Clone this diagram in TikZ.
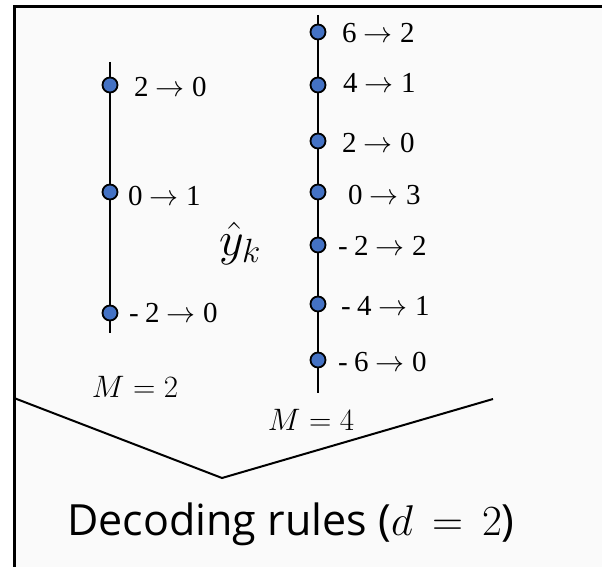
\RequirePackage{fix-cm}
\documentclass[tikz,border=0pt]{standalone}
\usepackage{fontspec}
\setmainfont{Liberation Serif}
\newfontfamily\capfont{Open Sans}
\usetikzlibrary{positioning}
\definecolor{dotblue}{RGB}{68,114,196}
\definecolor{panelgray}{RGB}{250,250,250}
\newcommand{\negsign}{-\hspace{.22em}}
\newcommand{\mapsarrow}{\ $\rightarrow$\ }

\begin{document}
\begin{tikzpicture}[x=1pt,y=-1pt,
  axis/.style={line width=2.2pt},
  pt/.style={circle,draw=black,line width=1.8pt,fill=dotblue,inner sep=0pt,minimum size=15pt},
  rule/.style={anchor=base west,inner sep=0pt,font=\fontsize{29}{34}\selectfont},
  mlabel/.style={anchor=base,inner sep=0pt,font=\fontsize{31}{36}\selectfont}]
  \useasboundingbox (0,0) rectangle (602,567);
  % panel
  \fill[panelgray] (14,7) rectangle (602,567);
  \draw[line width=3pt] (14,567) -- (14,7) -- (602,7);

  % M = 2
  \coordinate (lt) at (110,62);
  \coordinate (lb) at (110,333);
  \draw[axis] (lt) -- (lb);
  \node[pt] (l1) at (110,85) {};
  \node[pt] (l2) at (110,192) {};
  \node[pt] (l3) at (110,313) {};
  \node[rule] (ll1) at (134,97) {2\mapsarrow0};
  \node[rule] (ll2) at (128,205) {0\mapsarrow1};
  \node[rule] (ll3) at (129,322) {\negsign2\mapsarrow0};
  \node[mlabel] (m2) at (135,397) {$M = 2$};

  % M = 4
  \coordinate (rt) at (318,15);
  \coordinate (rb) at (318,393);
  \draw[axis] (rt) -- (rb);
  \node[pt] (r1) at (318,32) {};
  \node[pt] (r2) at (318,85) {};
  \node[pt] (r3) at (318,141) {};
  \node[pt] (r4) at (318,192) {};
  \node[pt] (r5) at (318,245) {};
  \node[pt] (r6) at (318,304) {};
  \node[pt] (r7) at (318,360) {};
  \node[rule] (rl1) at (342,43) {6\mapsarrow2};
  \node[rule] (rl2) at (343,93) {4\mapsarrow1};
  \node[rule] (rl3) at (342,153) {2\mapsarrow0};
  \node[rule] (rl4) at (348,204) {0\mapsarrow3};
  \node[rule] (rl5) at (338,255) {\negsign2\mapsarrow2};
  \node[rule] (rl6) at (341,315) {\negsign4\mapsarrow1};
  \node[rule] (rl7) at (338,371) {\negsign6\mapsarrow0};
  \node[mlabel] (m4) at (311,430) {$M = 4$};

  \node[font=\fontsize{48}{56}\selectfont] (yk) at (240,243) {$\hat{y}_k$};

  % decoder bracket
  \coordinate (bl) at (14,398);
  \coordinate (bv) at (222,478);
  \coordinate (br) at (493,399);
  \draw[line width=2pt] (bl) -- (bv) -- (br);
  \node[anchor=base,inner sep=0pt,font=\capfont\fontsize{43}{50}\selectfont] (cap) at (291,535) {Decoding rules ($d\,=\,2$)};
\end{tikzpicture}
\end{document}
